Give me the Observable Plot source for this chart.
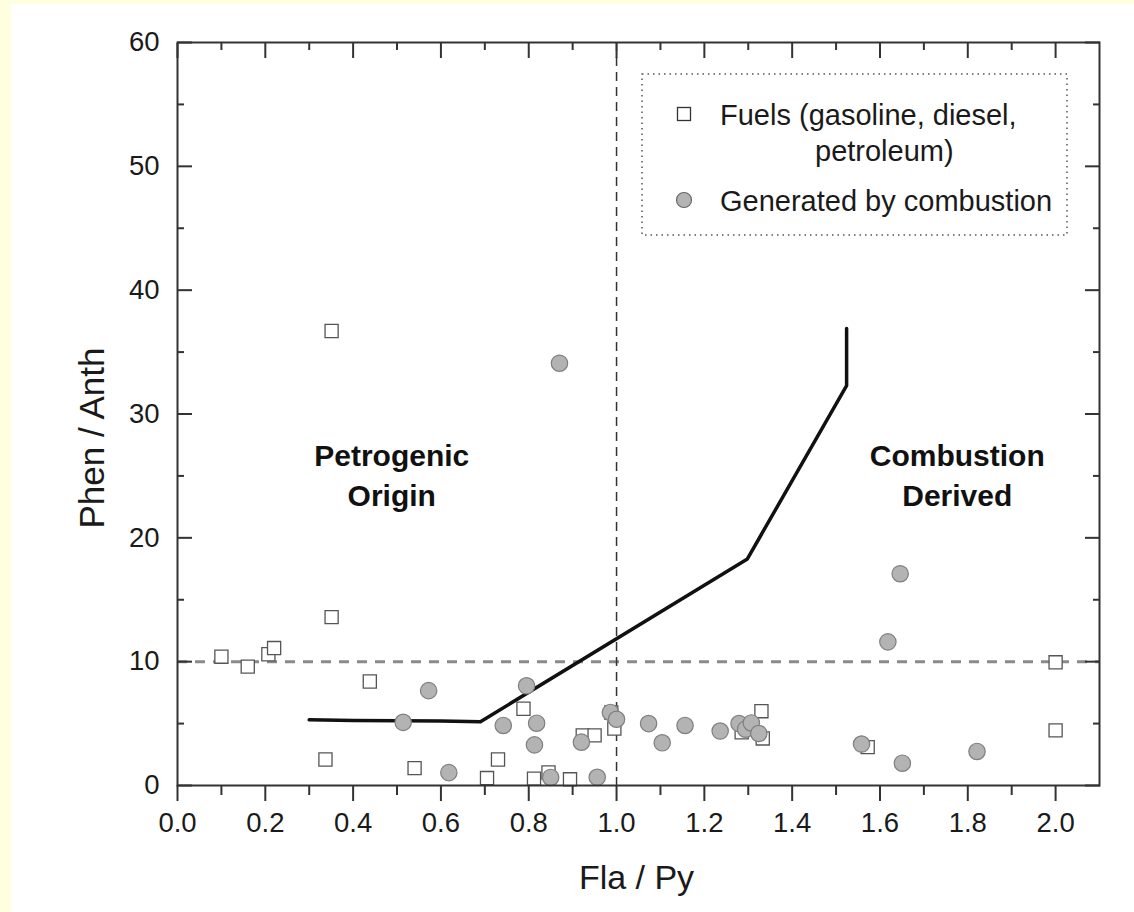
<!DOCTYPE html>
<html><head><meta charset="utf-8">
<script src="https://cdn.jsdelivr.net/npm/d3@7"></script>
<script src="https://cdn.jsdelivr.net/npm/@observablehq/plot@0.6"></script>
<style>
html,body{margin:0;padding:0;background:#ffffe0;width:1134px;height:912px;overflow:hidden;position:relative;}
#panel{position:absolute;left:11px;top:4px;width:1123px;height:908px;background:#fff;}
#legend{position:absolute;left:641px;top:73px;}
</style></head><body>
<div id="panel"></div>
<script>
// ---- data ----
const fuelsX = [0.10, 0.16, 0.207, 0.22, 0.351, 0.351, 0.438, 0.337, 0.54, 0.705, 0.73, 0.788, 0.812, 0.845, 0.894, 0.923, 0.95, 0.995, 0.988, 1.285, 1.33, 1.333, 1.572, 2.0, 2.0];
const fuelsY = [10.4, 9.6, 10.6, 11.1, 36.7, 13.6, 8.4, 2.1, 1.4, 0.6, 2.1, 6.2, 0.55, 1.05, 0.5, 4.05, 4.05, 4.6, 5.9, 4.3, 6.0, 3.8, 3.1, 9.95, 4.45];
const combX = [0.87, 0.572, 0.514, 0.618, 0.742, 0.795, 0.818, 0.813, 0.85, 0.92, 0.956, 0.986, 1.0, 1.073, 1.104, 1.156, 1.236, 1.279, 1.294, 1.307, 1.324, 1.558, 1.618, 1.646, 1.651, 1.821];
const combY = [34.1, 7.66, 5.1, 1.04, 4.85, 8.05, 5.03, 3.28, 0.65, 3.5, 0.66, 5.9, 5.35, 5.0, 3.45, 4.85, 4.4, 5.0, 4.55, 5.05, 4.2, 3.35, 11.6, 17.1, 1.8, 2.75];
const boundaryX = [0.30, 0.40, 0.60, 0.69, 1.298, 1.524, 1.524];
const boundaryY = [5.3, 5.25, 5.2, 5.15, 18.3, 32.3, 36.9];
const regionLabels = ["Petrogenic\nOrigin", "Combustion\nDerived"];
const regionX = [0.488, 1.776];
const regionY = [25.2, 25.2];
const xMajorTicks = [0, 0.2, 0.4, 0.6, 0.8, 1.0, 1.2, 1.4, 1.6, 1.8, 2.0];
const xTickLabels = ["0.0", "0.2", "0.4", "0.6", "0.8", "1.0", "1.2", "1.4", "1.6", "1.8", "2.0"];
const xMinorTicks = [0.1, 0.3, 0.5, 0.7, 0.9, 1.1, 1.3, 1.5, 1.7, 1.9];
const yMajorTicks = [0, 10, 20, 30, 40, 50, 60];
const yTickLabels = ["0", "10", "20", "30", "40", "50", "60"];
const yMinorTicks = [5, 15, 25, 35, 45, 55];
const xTitle = "Fla / Py";
const yTitle = "Phen / Anth";
const legendLabels = ["Fuels (gasoline, diesel,", "petroleum)", "Generated by combustion"];
const thresholdX = [1.0];
const thresholdY = [10];

const fuels = fuelsX.map((x, i) => ({x, y: fuelsY[i]}));
const comb = combX.map((x, i) => ({x, y: combY[i]}));
const boundary = boundaryX.map((x, i) => ({x, y: boundaryY[i]}));
const regions = regionLabels.map((t, i) => ({x: regionX[i], y: regionY[i], t}));

const font = "'Liberation Sans', Arial, Helvetica, sans-serif";
const axisColor = "#333";

const chart = Plot.plot({
  width: 1123,
  height: 908,
  marginLeft: 166,
  marginRight: 35,
  marginTop: 38,
  marginBottom: 127,
  style: {fontFamily: font, background: "white", color: "#1a1a1a", overflow: "visible"},
  x: {domain: [0, 2.1]},
  y: {domain: [0, 60]},
  marks: [
    Plot.ruleY(thresholdY, {stroke: "#8a8a8a", strokeWidth: 3, strokeDasharray: "10,8"}),
    Plot.ruleX(thresholdX, {stroke: "#333", strokeWidth: 1.5, strokeDasharray: "9,6"}),
    Plot.line(boundary, {x: "x", y: "y", stroke: "#111", strokeWidth: 3.5}),
    Plot.dot(fuels, {x: "x", y: "y", symbol: "square", r: 7.4, fill: "white", stroke: "#555", strokeWidth: 1.3}),
    Plot.dot(comb, {x: "x", y: "y", r: 8.2, fill: "#b3b3b3", stroke: "#7f7f7f", strokeWidth: 1.2}),
    Plot.text(regions, {x: "x", y: "y", text: "t", fontSize: 30, fontWeight: "bold", lineHeight: 1.34, fill: "#111"}),
    Plot.frame({stroke: axisColor, strokeWidth: 2}),
    // bottom axis
    Plot.axisX(xMajorTicks, {anchor: "bottom", tickSize: 16, tickPadding: 11, strokeWidth: 2, color: axisColor, fill: "#1a1a1a", fontSize: 27.5, label: null, tickFormat: d => xTickLabels[xMajorTicks.indexOf(d)]}),
    Plot.axisX(xMinorTicks, {anchor: "bottom", tickSize: 10, strokeWidth: 2, color: axisColor, text: null, label: null}),
    // top axis (inward)
    Plot.axisX(xMajorTicks, {anchor: "top", tickSize: 15, dy: 15, strokeWidth: 2, color: axisColor, text: null, label: null}),
    Plot.axisX(xMinorTicks, {anchor: "top", tickSize: 7, dy: 7, strokeWidth: 2, color: axisColor, text: null, label: null}),
    // left axis
    Plot.axisY(yMajorTicks, {anchor: "left", tickSize: 0, tickPadding: 18, fill: "#1a1a1a", fontSize: 27.5, label: null, tickFormat: d => yTickLabels[yMajorTicks.indexOf(d)]}),
    Plot.axisY(yMajorTicks, {anchor: "left", tickSize: 15, dx: 15, strokeWidth: 2, color: axisColor, text: null, label: null}),
    Plot.axisY(yMinorTicks, {anchor: "left", tickSize: 7, dx: 7, strokeWidth: 2, color: axisColor, text: null, label: null}),
    // right axis (inward)
    Plot.axisY(yMajorTicks, {anchor: "right", tickSize: 15, dx: -15, strokeWidth: 2, color: axisColor, text: null, label: null}),
    Plot.axisY(yMinorTicks, {anchor: "right", tickSize: 7, dx: -7, strokeWidth: 2, color: axisColor, text: null, label: null}),
    // axis titles
    Plot.text([xTitle], {text: d => d, frameAnchor: "bottom", textAnchor: "middle", dx: -2, dy: 79, lineAnchor: "top", fontSize: 34, fill: "#1a1a1a"}),
    Plot.text([yTitle], {text: d => d, frameAnchor: "left", textAnchor: "middle", rotate: -90, dx: -74, dy: 24, lineAnchor: "bottom", fontSize: 35, fill: "#1a1a1a"})
  ]
});
document.getElementById("panel").appendChild(chart);

// ---- legend (inside plot area, upper right) ----
const lg = d3.select("body").append("svg").attr("id", "legend")
  .attr("width", 428).attr("height", 164)
  .style("font-family", font);
lg.append("rect").attr("x", 1).attr("y", 1).attr("width", 425).attr("height", 161)
  .attr("fill", "white").attr("stroke", "#555").attr("stroke-width", 1.5).attr("stroke-dasharray", "1.5,4");
lg.append("rect").attr("x", 43 - 6.5).attr("y", 41 - 6.5).attr("width", 13).attr("height", 13)
  .attr("fill", "white").attr("stroke", "#333").attr("stroke-width", 1.3);
lg.append("circle").attr("cx", 43).attr("cy", 127).attr("r", 7.5)
  .attr("fill", "#b3b3b3").attr("stroke", "#666").attr("stroke-width", 1.2);
lg.append("text").attr("x", 79).attr("y", 52).attr("font-size", 29).attr("fill", "#1a1a1a").text(legendLabels[0]);
lg.append("text").attr("x", 174).attr("y", 88).attr("font-size", 29).attr("fill", "#1a1a1a").text(legendLabels[1]);
lg.append("text").attr("x", 79).attr("y", 138).attr("font-size", 29).attr("fill", "#1a1a1a").text(legendLabels[2]);
</script>
</body></html>
